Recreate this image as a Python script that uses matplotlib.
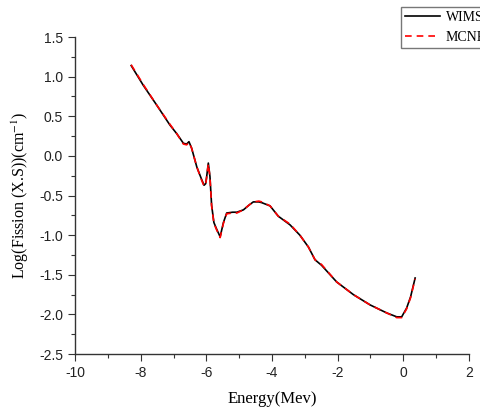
import matplotlib
matplotlib.use("Agg")
import matplotlib.pyplot as plt
from matplotlib.ticker import MultipleLocator

plt.rcParams["axes.unicode_minus"] = False
plt.rcParams["mathtext.fontset"] = "stix"

# data
energy = [-8.29, -7.92, -7.51, -7.11, -6.90, -6.70, -6.60, -6.53, -6.45, -6.29,
          -6.15, -6.07, -6.02, -5.99, -5.94, -5.89, -5.84, -5.77, -5.69, -5.58,
          -5.48, -5.38, -5.20, -5.07, -4.87, -4.70, -4.57, -4.40, -4.31, -4.06,
          -3.81, -3.45, -3.15, -2.89, -2.69, -2.49, -2.03, -1.52, -1.01, -0.51,
          -0.20, -0.05, 0.10, 0.22, 0.36]
wims = [1.14, 0.89, 0.64, 0.39, 0.28, 0.16, 0.15, 0.18, 0.10, -0.14,
        -0.29, -0.37, -0.35, -0.26, -0.09, -0.26, -0.62, -0.84, -0.92, -1.02,
        -0.84, -0.72, -0.71, -0.71, -0.68, -0.62, -0.58, -0.58, -0.59, -0.63,
        -0.76, -0.87, -1.00, -1.15, -1.31, -1.38, -1.59, -1.75, -1.88, -1.98,
        -2.03, -2.03, -1.92, -1.78, -1.54]
mcnp = [1.15, 0.90, 0.64, 0.40, 0.28, 0.15, 0.14, 0.17, 0.10, -0.14,
        -0.30, -0.38, -0.36, -0.27, -0.10, -0.27, -0.63, -0.85, -0.93, -1.03,
        -0.85, -0.73, -0.72, -0.72, -0.68, -0.62, -0.58, -0.57, -0.58, -0.63,
        -0.76, -0.86, -1.00, -1.15, -1.31, -1.37, -1.59, -1.75, -1.88, -1.98,
        -2.04, -2.04, -1.93, -1.79, -1.55]

fig = plt.figure(figsize=(4.81, 4.07), dpi=100)
ax = fig.add_axes([0.156, 0.130, 0.819, 0.779])

ax.plot(energy, wims, color="black", lw=1.2, label="WIMS")
ax.plot(energy, mcnp, color="red", lw=1.2, ls=(0, (4, 3)), label="MCNP")

ax.set_xlim(-10, 2)
ax.set_ylim(-2.5, 1.5)
ax.xaxis.set_major_locator(MultipleLocator(2))
ax.xaxis.set_minor_locator(MultipleLocator(1))
ax.yaxis.set_major_locator(MultipleLocator(0.5))
ax.yaxis.set_minor_locator(MultipleLocator(0.25))
ax.yaxis.set_major_formatter(plt.FuncFormatter(lambda v, p: "%.1f" % v))
ax.xaxis.set_major_formatter(plt.FuncFormatter(lambda v, p: "%d" % v))

for s in ["top", "right"]:
    ax.spines[s].set_visible(False)
for s in ["left", "bottom"]:
    ax.spines[s].set_color("#333333")
    ax.spines[s].set_linewidth(1.0)

ax.tick_params(which="major", direction="out", length=5, width=0.8, colors="#333333",
               labelsize=10, labelcolor="#222222")
ax.tick_params(which="minor", direction="out", length=3, width=0.8, colors="#333333")
for lab in ax.get_xticklabels() + ax.get_yticklabels():
    lab.set_family("Liberation Sans")

ax.set_xlabel("Energy(Mev)", family="Liberation Serif", fontsize=12, labelpad=8)
ax.set_ylabel("Log(Fission (X.S))(cm$^{-1}$)", family="Liberation Serif", fontsize=11.5,
              labelpad=6)

leg = fig.legend(loc="upper left", bbox_to_anchor=(0.834, 0.983), frameon=True,
                 fancybox=False, edgecolor="#555555", prop={"family": "Liberation Serif", "size": 10},
                 handlelength=2.5, borderaxespad=0, borderpad=0.3, handletextpad=0.4,
                 labelspacing=0.5)
leg.get_frame().set_linewidth(1.0)

fig.savefig("out.png", dpi=100)
